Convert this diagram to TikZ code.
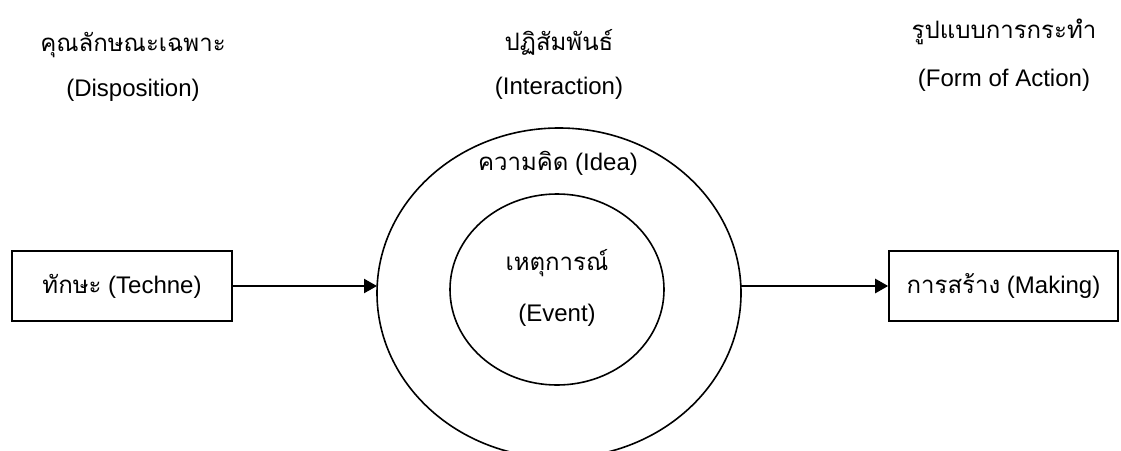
\documentclass[tikz,border=0pt]{standalone}
\usepackage{fontspec}
\setmainfont{Liberation Sans}
\newfontfamily\thai[Script=Thai]{Loma}
\usetikzlibrary{shapes.geometric,arrows.meta}
\tikzset{
  lbl/.style={font=\fontsize{24}{28}\selectfont, inner sep=0pt, anchor=center},
  boxnode/.style={draw, line width=1.6pt, inner sep=0pt, minimum height=70pt, font=\fontsize{24}{28}\selectfont},
  ell/.style={draw, ellipse, line width=1.6pt, inner sep=0pt, outer sep=0pt},
  conn/.style={line width=2.4pt, -{Triangle[length=13pt,width=14pt]}}
}
\begin{document}
\begin{tikzpicture}[x=1pt,y=-1pt]
\useasboundingbox (0,0) rectangle (1121,450);
\clip (0,0) rectangle (1121,450);
% headers
\node[lbl] (h1) at (133,45) {\thai คุณลักษณะเฉพาะ};
\node[lbl] (h1e) at (133,90) {(Disposition)};
\node[lbl] (h2) at (559,42) {\thai ปฏิสัมพันธ์};
\node[lbl] (h2e) at (559,88) {(Interaction)};
\node[lbl] (h3) at (1004,32) {\thai รูปแบบการกระทำ};
\node[lbl] (h3e) at (1004,80) {(Form of Action)};
% ellipses
\node[ell, minimum width=364pt, minimum height=330pt] (outer) at (559,293) {};
\node[ell, minimum width=214pt, minimum height=191pt] (inner) at (557,289.5) {};
\node[lbl] (idea) at (558,163) {{\thai ความคิด} (Idea)};
\node[lbl] (ev1) at (557,263) {\thai เหตุการณ์};
\node[lbl] (ev2) at (557,315) {(Event)};
% boxes
\node[boxnode, minimum width=220pt] (techne) at (122,286) {{\thai ทักษะ} (Techne)};
\node[boxnode, minimum width=229pt] (making) at (1003.5,286) {{\thai การสร้าง} (Making)};
% connectors
\draw[conn] (techne.east) -- (techne.east -| outer.west);
\draw[conn] (making.west -| outer.east) -- (making.west);
\end{tikzpicture}
\end{document}
